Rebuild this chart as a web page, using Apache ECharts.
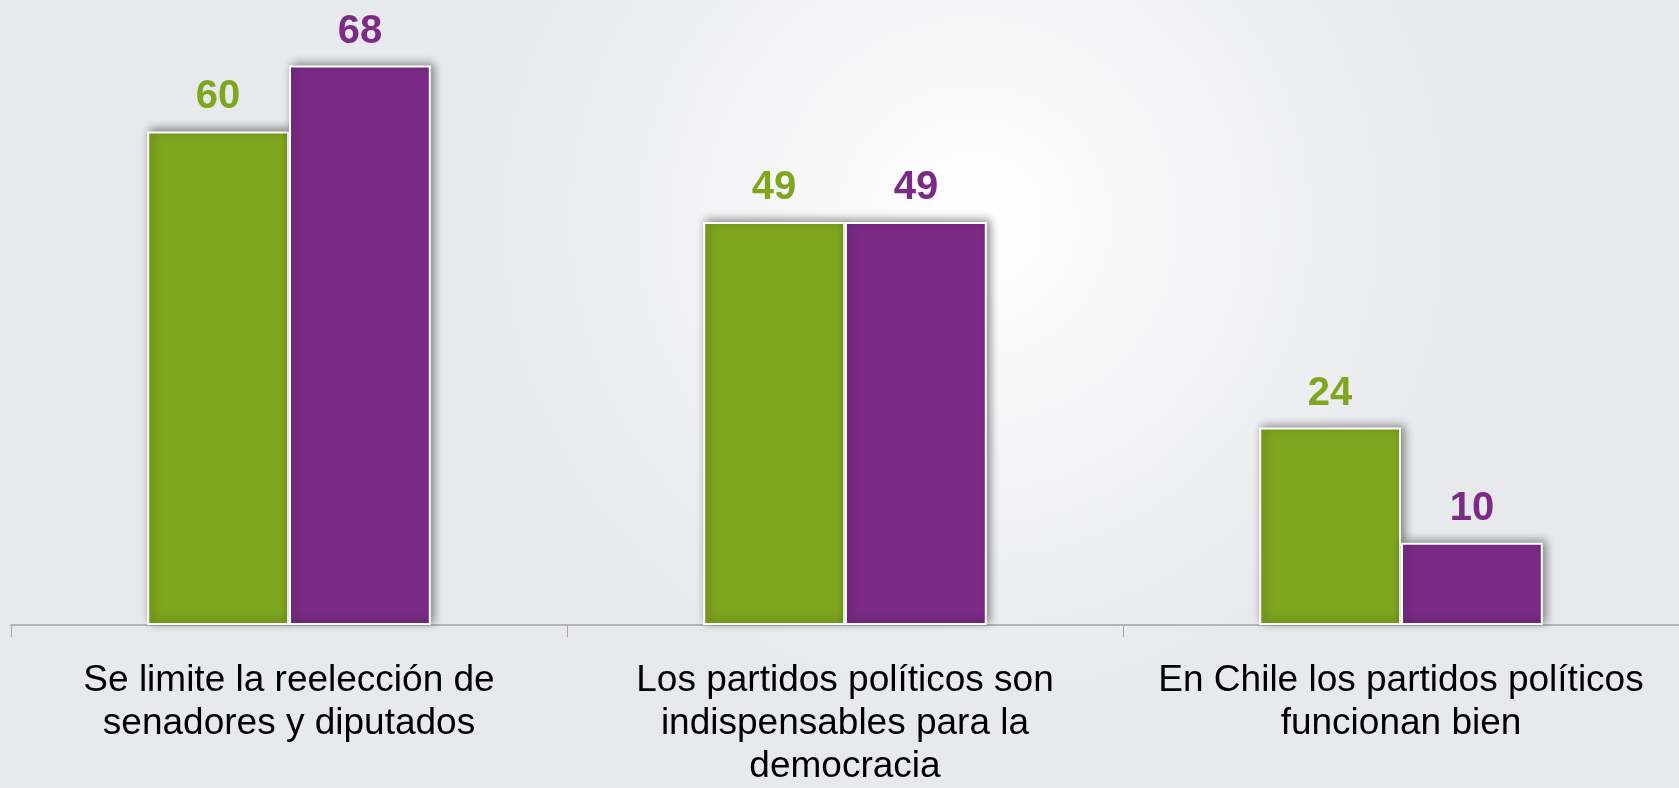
<!DOCTYPE html>
<html lang="es">
<head>
    <meta charset="UTF-8">
    <title>Partidos políticos</title>
    <style>
        html, body { margin: 0; padding: 0; overflow: hidden; }
        #main { width: 100vw; height: 100vh; }
    </style>
</head>
<body>
    <div id="main"></div>
    <script src="https://cdn.jsdelivr.net/npm/echarts@6/dist/echarts.min.js"></script>
    <script type="text/javascript">
        var categories = [
            'Se limite la reelección de\nsenadores y diputados',
            'Los partidos políticos son\nindispensables para la\ndemocracia',
            'En Chile los partidos políticos\nfuncionan bien'
        ];
        var serieVerde = [60, 49, 24];
        var serieMorada = [68, 49, 10];

        var VERDE = '#7ea61e';
        var MORADO = '#7b2b86';
        var FONT = '"Liberation Sans", Arial, sans-serif';

        var myChart = echarts.init(document.getElementById('main'));

        // estilo comun de las barras (borde blanco + sombra)
        var barStyle = function (color) {
            return {
                color: color,
                borderColor: '#ffffff',
                borderWidth: 2,
                shadowColor: 'rgba(0,0,0,0.45)',
                shadowBlur: 9,
                shadowOffsetX: 3,
                shadowOffsetY: -2
            };
        };

        var labelStyle = function (color) {
            return {
                show: true,
                position: 'top',
                distance: 14,
                color: color,
                fontFamily: FONT,
                fontWeight: 'bold',
                fontSize: 40
            };
        };

        var option = {
            backgroundColor: new echarts.graphic.RadialGradient(0.58, 0.28, 0.62, [
                {offset: 0, color: '#ffffff'},
                {offset: 1, color: '#e8e9ec'}
            ]),
            animation: false,
            grid: {
                left: '0.655%',
                width: '100.18%',
                top: '1.015%',
                bottom: '19.67%'
            },
            xAxis: {
                type: 'category',
                data: categories,
                axisLine: {lineStyle: {color: '#a3a3a3', width: 1.5}},
                axisTick: {show: true, length: 12, lineStyle: {color: '#a3a3a3', width: 1}},
                axisLabel: {
                    color: '#000000',
                    fontFamily: FONT,
                    fontSize: 37,
                    lineHeight: 43,
                    margin: 34,
                    interval: 0
                }
            },
            yAxis: {
                type: 'value',
                min: 0,
                max: 75,
                show: false,
                splitLine: {show: false}
            },
            series: [{
                type: 'bar',
                name: 'verde',
                data: serieVerde,
                barWidth: '25.5%',
                barGap: '0%',
                itemStyle: barStyle(VERDE),
                label: labelStyle(VERDE)
            }, {
                type: 'bar',
                name: 'morado',
                data: serieMorada,
                barWidth: '25.5%',
                itemStyle: barStyle(MORADO),
                label: labelStyle(MORADO)
            }]
        };

        myChart.setOption(option);
    </script>
</body>
</html>
